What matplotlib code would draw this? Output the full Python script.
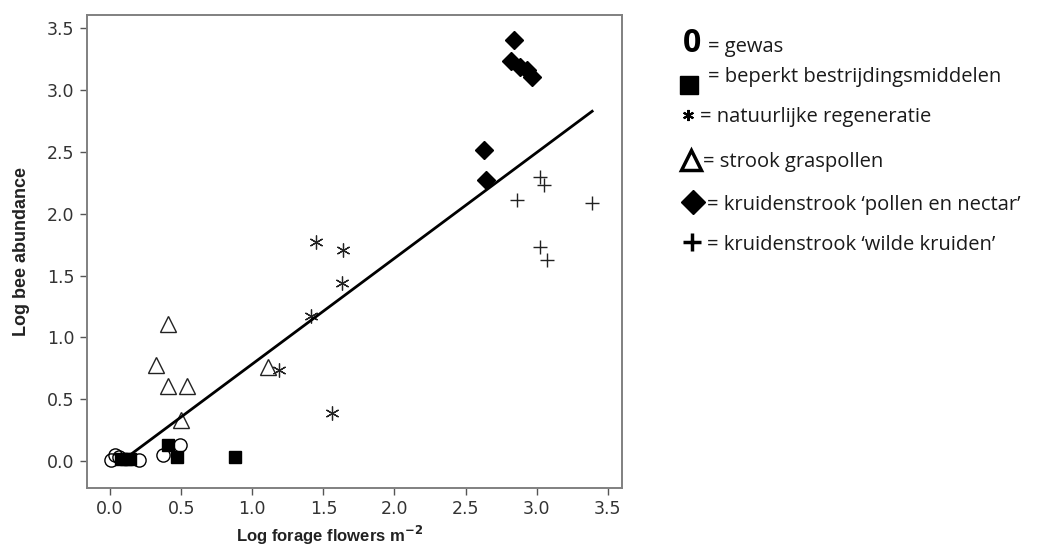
import matplotlib
matplotlib.use("Agg")
import matplotlib.pyplot as plt

# gewas (open circles)
crop_x = [0.01, 0.035, 0.06, 0.20, 0.37, 0.49]
crop_y = [0.01, 0.05, 0.03, 0.01, 0.05, 0.13]
# beperkt bestrijdingsmiddelen (filled squares)
pest_x = [0.08, 0.11, 0.14, 0.41, 0.47, 0.88]
pest_y = [0.02, 0.02, 0.02, 0.13, 0.035, 0.035]
# natuurlijke regeneratie (asterisks)
regen_x = [1.45, 1.64, 1.63, 1.41, 1.19, 1.56]
regen_y = [1.77, 1.71, 1.44, 1.17, 0.74, 0.39]
# strook graspollen (open triangles)
grass_x = [0.41, 0.32, 0.41, 0.54, 0.50, 1.11]
grass_y = [1.11, 0.78, 0.61, 0.61, 0.33, 0.76]
# kruidenstrook 'pollen en nectar' (diamonds)
nectar_x = [2.84, 2.82, 2.88, 2.93, 2.97, 2.63, 2.64]
nectar_y = [3.41, 3.24, 3.19, 3.16, 3.11, 2.52, 2.27]
# kruidenstrook 'wilde kruiden' (plus)
wild_x = [3.02, 3.05, 2.86, 3.39, 3.02, 3.07]
wild_y = [2.30, 2.23, 2.11, 2.09, 1.73, 1.63]
# regression line
fit_x = [0.13, 3.39]
fit_y = [0.04, 2.83]

xticks = [0.0, 0.5, 1.0, 1.5, 2.0, 2.5, 3.0, 3.5]
yticks = [0.0, 0.5, 1.0, 1.5, 2.0, 2.5, 3.0, 3.5]

fig = plt.figure(figsize=(10.49, 5.47), dpi=100)
ax = fig.add_axes([0.0827, 0.1084, 0.510, 0.864])

ax.plot(crop_x, crop_y, 'o', ms=9.5, mfc='none', mec='black', mew=1)
ax.plot(pest_x, pest_y, 's', ms=8.5, mfc='black', mec='black')
ax.plot(grass_x, grass_y, '^', ms=12, mfc='none', mec='#222222', mew=1)
ax.plot(regen_x, regen_y, marker=(6, 2, 0), ls='none', ms=10, mec='#222222', mew=0.9)
ax.plot(nectar_x, nectar_y, 'D', ms=9, mfc='black', mec='black')
ax.plot(wild_x, wild_y, '+', ms=10, mec='#222222', mew=1)
ax.plot(fit_x, fit_y, '-', color='black', lw=2)

ax.set_xlim(-0.164, 3.598)
ax.set_ylim(-0.216, 3.608)
ax.set_xticks(xticks)
ax.set_yticks(yticks)
ax.set_xticklabels([f"{t:.1f}" for t in xticks])
ax.set_yticklabels([f"{t:.1f}" for t in yticks])
for s in ax.spines.values():
    s.set_color('#808080')
    s.set_linewidth(1.4)
ax.tick_params(colors='#555555', labelcolor='#333333', labelsize=12.5,
               length=5, width=1, pad=4)

fig.text(330 / 1049, 0.0097, r"Log forage flowers m$^{\mathbf{-2}}$",
         ha='center', va='baseline', fontsize=12, fontweight='bold',
         family='Liberation Sans', color='#222222')
fig.text(21.5 / 1049, 1 - 252 / 547, "Log bee abundance", rotation=90,
         ha='center', va='center', fontsize=13, fontweight='bold',
         family='Liberation Sans', color='#222222')

# legend drawn in pixel coordinates
lg = fig.add_axes([0, 0, 1, 1], facecolor='none')
lg.set_xlim(0, 1049)
lg.set_ylim(547, 0)
lg.axis('off')

legend_labels = ["= gewas", "= beperkt bestrijdingsmiddelen",
                 "= natuurlijke regeneratie", "= strook graspollen",
                 "= kruidenstrook \u2018pollen en nectar\u2019",
                 "= kruidenstrook \u2018wilde kruiden\u2019"]
text_pos = [(708, 51.7), (708, 81.7), (700, 121.7), (703, 166.7),
            (707, 210), (707, 250)]
for (tx, ty), lab in zip(text_pos, legend_labels):
    lg.text(tx, ty, lab, fontsize=14.5, family='Open Sans', color='#1a1a1a',
            va='baseline', ha='left')

lg.text(692.5, 51.7, "0", fontsize=23, fontweight='bold', family='Open Sans',
        ha='center', va='baseline', color='black')
lg.plot([689], [85], 's', ms=13, color='black')
lg.plot([688], [115], marker=(6, 2, 0), ms=8, mec='black', mew=1.5)
lg.plot([690.5], [160], '^', ms=15, mfc='none', mec='black', mew=2.5)
lg.plot([692.8], [202], 'D', ms=12, color='black')
lg.plot([691.7], [241.7], '+', ms=13, mec='black', mew=2.5)

fig.savefig("out.png", dpi=100)
